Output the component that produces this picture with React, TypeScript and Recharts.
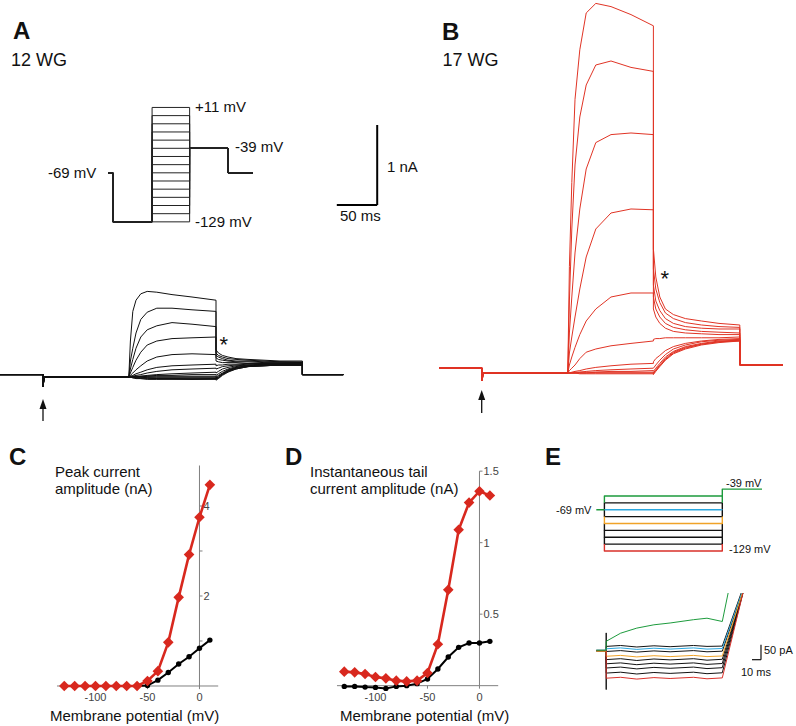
import React from "react";
import { LineChart, Line, XAxis, YAxis, ReferenceLine } from "recharts";

const FONT = "'Liberation Sans', Arial, Helvetica, sans-serif";
const INK = "#111";
const TRACE_RED = "#e03324";
const IV_RED = "#d8281e";
const GRAY = "#808080";

// ---------- Panel A: 12 WG currents (time ms, current nA) ----------
const aTime = [0, 54, 54, 55, 161, 163, 166, 170, 176, 184, 196, 215, 240, 270, 270, 273, 278, 285, 295, 310, 330, 350, 378, 378, 429];
const aPre = [0.03, 0.03, -0.12, 0, 0];
const aPost = [0.03, 0.03];
const aPulse = [
  [0.45, 0.82, 0.96, 1.04, 1.07, 1.06, 1.03, 1.0, 0.96],
  [0.2, 0.36, 0.55, 0.72, 0.81, 0.86, 0.86, 0.84, 0.82],
  [0.1, 0.22, 0.36, 0.5, 0.59, 0.64, 0.68, 0.66, 0.63],
  [0.05, 0.12, 0.21, 0.31, 0.4, 0.45, 0.48, 0.49, 0.5],
  [0.02, 0.05, 0.09, 0.14, 0.2, 0.25, 0.28, 0.29, 0.28],
  [0.01, 0.02, 0.04, 0.06, 0.09, 0.12, 0.14, 0.15, 0.16],
  [0, 0.01, 0.02, 0.03, 0.05, 0.07, 0.09, 0.1, 0.11],
  [0, 0, 0.01, 0.01, 0.02, 0.03, 0.04, 0.05, 0.06],
  [0, 0, 0, 0.01, 0.01, 0.02, 0.02, 0.03, 0.03],
  [0, 0, 0, 0, 0.01, 0.01, 0.01, 0.01, 0.01],
  [0, 0, 0, 0, 0, 0, 0, 0, 0],
  [0, 0, 0, 0, -0.01, -0.01, -0.01, -0.01, -0.01],
  [0, 0, -0.01, -0.01, -0.01, -0.02, -0.02, -0.02, -0.02],
  [0, -0.01, -0.01, -0.02, -0.02, -0.02, -0.02, -0.03, -0.02],
  [0, -0.01, -0.02, -0.02, -0.03, -0.03, -0.03, -0.03, -0.03],
];
const aTail = [
  [0.34, 0.3, 0.27, 0.25, 0.23, 0.22, 0.21, 0.2, 0.2],
  [0.3, 0.27, 0.25, 0.23, 0.22, 0.21, 0.2, 0.19, 0.19],
  [0.27, 0.25, 0.23, 0.21, 0.2, 0.2, 0.19, 0.19, 0.18],
  [0.24, 0.22, 0.21, 0.2, 0.19, 0.19, 0.18, 0.18, 0.18],
  [0.2, 0.19, 0.18, 0.18, 0.18, 0.17, 0.17, 0.17, 0.17],
  [0.14, 0.15, 0.15, 0.16, 0.16, 0.17, 0.17, 0.17, 0.17],
  [0.1, 0.11, 0.13, 0.14, 0.15, 0.16, 0.16, 0.16, 0.16],
  [0.05, 0.07, 0.1, 0.12, 0.14, 0.15, 0.16, 0.16, 0.16],
  [0.02, 0.04, 0.07, 0.1, 0.13, 0.15, 0.15, 0.16, 0.16],
  [0, 0.02, 0.05, 0.09, 0.12, 0.14, 0.15, 0.15, 0.15],
  [-0.01, 0.01, 0.04, 0.08, 0.12, 0.14, 0.15, 0.15, 0.15],
  [-0.02, 0, 0.04, 0.08, 0.11, 0.14, 0.15, 0.15, 0.15],
  [-0.02, -0.01, 0.03, 0.07, 0.11, 0.13, 0.14, 0.15, 0.15],
  [-0.03, -0.01, 0.03, 0.07, 0.1, 0.13, 0.14, 0.15, 0.15],
  [-0.04, -0.02, 0.02, 0.06, 0.1, 0.13, 0.14, 0.15, 0.15],
];

// ---------- Panel B: 17 WG currents ----------
const bTime = [0, 54, 54, 55, 161, 163, 166, 170, 176, 184, 196, 215, 240, 268, 268, 271, 276, 283, 293, 308, 328, 350, 376, 376, 430];
const bPre = [0.06, 0.06, -0.1, 0, 0];
const bPost = [0.1, 0.1];
const bPulse = [
  [1.33, 2.38, 3.42, 4.04, 4.5, 4.62, 4.58, 4.48, 4.34],
  [0.9, 1.8, 2.6, 3.2, 3.6, 3.85, 3.9, 3.82, 3.77],
  [0.5, 0.95, 1.5, 2.05, 2.55, 2.88, 2.98, 3.0, 2.98],
  [0.25, 0.45, 0.7, 1.05, 1.45, 1.8, 2.0, 2.05, 2.04],
  [0.1, 0.2, 0.32, 0.48, 0.65, 0.8, 0.95, 1.0, 1.0],
  [0.03, 0.06, 0.1, 0.18, 0.26, 0.3, 0.34, 0.37, 0.4],
  [0, 0.01, 0.02, 0.03, 0.05, 0.07, 0.09, 0.11, 0.12],
  [0, 0, 0.01, 0.01, 0.02, 0.03, 0.04, 0.05, 0.06],
  [0, 0, 0, 0.01, 0.01, 0.01, 0.02, 0.02, 0.03],
  [0, 0, 0, 0, 0, 0.01, 0.01, 0.01, 0.01],
  [0, 0, 0, 0, 0, 0, 0, 0, 0],
  [0, 0, 0, -0.01, -0.01, -0.01, -0.01, -0.01, -0.01],
];
const bTail = [
  [1.55, 1.2, 0.95, 0.8, 0.73, 0.68, 0.65, 0.62, 0.6],
  [1.3, 1.05, 0.88, 0.75, 0.68, 0.63, 0.6, 0.58, 0.57],
  [1.1, 0.9, 0.78, 0.68, 0.62, 0.58, 0.56, 0.55, 0.55],
  [0.95, 0.8, 0.7, 0.62, 0.57, 0.54, 0.52, 0.51, 0.5],
  [0.8, 0.7, 0.62, 0.56, 0.52, 0.5, 0.49, 0.48, 0.48],
  [0.42, 0.43, 0.43, 0.44, 0.44, 0.44, 0.44, 0.44, 0.45],
  [0.14, 0.18, 0.22, 0.28, 0.33, 0.37, 0.4, 0.42, 0.43],
  [0.06, 0.1, 0.16, 0.23, 0.3, 0.35, 0.39, 0.41, 0.42],
  [0.02, 0.06, 0.12, 0.2, 0.27, 0.33, 0.37, 0.4, 0.41],
  [0, 0.04, 0.1, 0.18, 0.26, 0.32, 0.36, 0.39, 0.41],
  [-0.01, 0.03, 0.09, 0.17, 0.25, 0.31, 0.36, 0.39, 0.4],
  [-0.02, 0.02, 0.08, 0.16, 0.24, 0.3, 0.35, 0.38, 0.4],
];

// ---------- Panel A voltage protocol (schematic time, mV) ----------
const aProtoTime = [0, 6, 6, 54, 54, 100, 100, 147, 147, 178];
const holdMv = -69;
const preMv = -129;
const afterMv = -39;
const aLevels = [11, 1, -9, -19, -29, -39, -49, -59, -69, -79, -89, -99, -109, -119, -129];

// ---------- Panels C / D: I-V relations ----------
const ivVoltage = [-130, -120, -110, -100, -90, -80, -70, -60, -50, -40, -30, -20, -10, 0, 10];
const peak17 = [0, 0, 0, 0, 0, 0, 0, 0, 0.11, 0.33, 0.97, 1.97, 2.92, 3.75, 4.47];
const peak12 = [0, 0, 0, 0, 0, 0, 0, 0, 0.01, 0.13, 0.3, 0.49, 0.65, 0.84, 1.02];
const tail17 = [0.098, 0.093, 0.082, 0.061, 0.051, 0.035, 0.03, 0.035, 0.089, 0.29, 0.67, 1.09, 1.28, 1.36, 1.33];
const tail12 = [-0.005, -0.005, -0.01, -0.012, -0.019, -0.005, 0, 0.014, 0.047, 0.117, 0.2, 0.268, 0.298, 0.298, 0.31];
const xTicks = [-100, -50, 0];
const cYTicks = [1, 2, 3, 4];
const cYLabelled = [2, 4];
const dYTicks = [0.5, 1, 1.5];

// ---------- Panel E: hyperpolarising steps (ms, mV / pA) ----------
const eLevels = [-59, -79, -99, -109, -119, -69, -89, -129, -49];
const eSides = [-69, -69, -89, -99, -109, -69, -79, -119, -59];
const eLevelColors = [INK, INK, INK, INK, INK, "#2aa7df", "#f0a328", "#d9302a", "#1c9b3c"];
const eTime = [0, 11, 11, 11, 11, 27, 45, 64, 82, 108, 123, 140, 163];
const eTraces = [
  [-14, -14, -44, -44, -44, -41, -47, -42, -45, -41, -46, -43, 182],
  [-14, -14, -58, -58, -58, -55, -61, -56, -59, -55, -60, -57, 181],
  [-15, -15, -72, -72, -72, -69, -75, -70, -73, -69, -74, -71, 180],
  [-15, -15, -89, -89, -89, -86, -92, -87, -90, -86, -91, -88, 179],
  [-14, -14, -17, -17, -17, -14, -19, -15, -18, -14, -18, -16, 186],
  [-13, -13, 45, -144, 0, 3, -2, 2, -1, 3, 0, 1, 195],
  [-13, -13, -8, -8, -8, -5, -10, -6, -9, -5, -9, -7, 190],
  [-16, -16, -33, -33, -33, -30, -35, -31, -34, -30, -34, -32, 184],
  [-14, -14, -106, -106, -106, -103, -109, -104, -107, -103, -108, -105, 178],
  [-13, -13, -13, -13, 17, 44, 61, 72, 78, 89, 94, 83, 420],
];
const eTraceColors = [INK, INK, INK, INK, INK, INK, "#2aa7df", "#f0a328", "#d9302a", "#1c9b3c"];

type Pt = { t: number; v: number };
const toPts = (time: number[], vals: number[]): Pt[] => time.map((t, i) => ({ t, v: vals[i] }));

function TraceChart(props: {
  left: number; top: number; width: number; height: number;
  xDomain: [number, number]; yDomain: [number, number];
  lines: { pts: Pt[]; color: string; w: number }[];
  clip?: boolean; children?: React.ReactNode;
}) {
  const { left, top, width, height, xDomain, yDomain, lines, clip, children } = props;
  return (
    <div style={{ position: "absolute", left, top, width, height }}>
      <LineChart width={width} height={height} margin={{ top: 0, right: 0, bottom: 0, left: 0 }}>
        <XAxis dataKey="t" type="number" domain={xDomain} hide allowDataOverflow />
        <YAxis type="number" domain={yDomain} hide allowDataOverflow={!!clip} />
        {lines.map((l, i) => (
          <Line key={i} data={l.pts} dataKey="v" type="linear" stroke={l.color} strokeWidth={l.w}
            dot={false} isAnimationActive={false} strokeLinejoin="round" />
        ))}
        {children}
      </LineChart>
    </div>
  );
}

const diamondDot = (p: any) => {
  const { cx, cy, index } = p;
  if (cx == null || cy == null) return <g key={`dm-${index}`} />;
  const r = 5.3;
  return <path key={`dm-${index}`} d={`M${cx},${cy - r}L${cx + r},${cy}L${cx},${cy + r}L${cx - r},${cy}Z`} fill={IV_RED} />;
};

function IVChart(props: {
  plotLeft: number; plotTop: number; plotW: number; plotH: number;
  yDomain: [number, number]; red: number[]; black: number[];
  yTicks: number[]; yLabelled: number[]; yMax: number; tickLen: number;
}) {
  const { plotLeft, plotTop, plotW, plotH, yDomain, red, black, yTicks, yLabelled, yMax, tickLen } = props;
  const m = 8;
  const rows = ivVoltage.map((v, i) => ({ v, red: red[i], black: black[i] }));
  const width = plotW + 2 * m;
  const height = plotH + m + 16 + 2;
  return (
    <div style={{ position: "absolute", left: plotLeft - m, top: plotTop - m }}>
      <LineChart width={width} height={height} data={rows} margin={{ top: m, right: m, bottom: 2, left: m }}>
        <XAxis dataKey="v" type="number" domain={[-137, 18]} ticks={xTicks} interval={0} axisLine={false}
          tickLine={false} tickSize={0} height={16} tick={{ fontSize: 11, fill: "#444" }} />
        <YAxis type="number" domain={yDomain} hide />
        <ReferenceLine segment={[{ x: -137, y: 0 }, { x: 18, y: 0 }]} stroke={GRAY} strokeWidth={1} />
        <ReferenceLine segment={[{ x: 0, y: 0 }, { x: 0, y: yMax }]} stroke={GRAY} strokeWidth={1} />
        {xTicks.map((t) => (
          <ReferenceLine key={`xt${t}`} segment={[{ x: t, y: 0 }, { x: t, y: -tickLen }]} stroke={GRAY} />
        ))}
        {yTicks.map((t) => (
          <ReferenceLine key={`yt${t}`} segment={[{ x: 0, y: t }, { x: 2.9, y: t }]} stroke={GRAY}
            label={yLabelled.includes(t) ? { value: String(t), position: "right", offset: 1, fontSize: 11, fill: "#444" } : undefined} />
        ))}
        <Line dataKey="black" type="linear" stroke="#000" strokeWidth={2}
          dot={{ r: 2.7, fill: "#000", stroke: "#000", strokeWidth: 0 }} isAnimationActive={false} />
        <Line dataKey="red" type="linear" stroke={IV_RED} strokeWidth={2.6} dot={diamondDot} isAnimationActive={false} />
      </LineChart>
    </div>
  );
}

function Txt(p: { x: number; y: number; s: number; b?: boolean; c?: string; children: React.ReactNode }) {
  return (
    <text x={p.x} y={p.y} fontSize={p.s} fontWeight={p.b ? 700 : 400} fill={p.c ?? INK}>{p.children}</text>
  );
}

export default function App() {
  const aLines = aPulse.map((p, i) => ({ pts: toPts(aTime, [...aPre, ...p, ...aTail[i], ...aPost]), color: INK, w: 1 }));
  const bLines = bPulse.map((p, i) => ({ pts: toPts(bTime, [...bPre, ...p, ...bTail[i], ...bPost]), color: TRACE_RED, w: 1 }));
  const protoLines = aLevels.map((v) => ({
    pts: toPts(aProtoTime, [holdMv, holdMv, preMv, preMv, v, v, afterMv, afterMv, holdMv, holdMv]),
    color: "#222", w: 1,
  }));
  const eProto = eLevels.map((v, i) => ({
    pts: toPts([9, 9, 140, 140], [eSides[i], v, v, eSides[i]]), color: eLevelColors[i], w: 1.4,
  }));
  const eProtoExtra = [
    { pts: toPts([0, 9], [holdMv, holdMv]), color: "#1c9b3c", w: 1.4 },
    { pts: toPts([140, 140, 185], [-49, afterMv, afterMv]), color: "#1c9b3c", w: 1.4 },
  ];
  const eLines = eTraces.map((tr, i) => ({ pts: toPts(eTime, tr), color: eTraceColors[i], w: 1 }));

  return (
    <div style={{ position: "absolute", left: 0, top: 0, width: 796, height: 726, background: "#fff", fontFamily: FONT, overflow: "hidden" }}>
      {/* A traces, 0.8 px/ms, 80 px/nA */}
      <TraceChart left={0} top={101} width={390} height={320} xDomain={[0, 487.5]} yDomain={[-0.55, 3.45]} lines={aLines}>
        <ReferenceLine segment={[{ x: 421, y: 2.15 }, { x: 471.5, y: 2.15 }]} stroke="#000" strokeWidth={2} />
        <ReferenceLine segment={[{ x: 471.5, y: 2.15 }, { x: 471.5, y: 3.15 }]} stroke="#000" strokeWidth={2} />
      </TraceChart>
      {/* A protocol */}
      <TraceChart left={108} top={104.9} width={145.3} height={119.3} xDomain={[0, 178]} yDomain={[-132, 14]} lines={protoLines} />
      {/* B traces */}
      <TraceChart left={430} top={1.3} width={360} height={418.4} xDomain={[-11.25, 438.75]} yDomain={[-0.58, 4.65]} lines={bLines} />
      {/* C and D */}
      <IVChart plotLeft={56.5} plotTop={461} plotW={161.2} plotH={230.4} yDomain={[-0.12, 5]}
        red={peak17} black={peak12} yTicks={cYTicks} yLabelled={cYLabelled} yMax={4.9} tickLen={0.07} />
      <IVChart plotLeft={336.5} plotTop={464.35} plotW={161.2} plotH={227.4} yDomain={[-0.04, 1.55]}
        red={tail17} black={tail12} yTicks={dYTicks} yLabelled={dYTicks} yMax={1.5} tickLen={0.021} />
      {/* E protocol and traces */}
      <TraceChart left={589.7} top={485.3} width={172.8} height={70.1} xDomain={[-7, 185]} yDomain={[-135, -33]}
        lines={[...eProto, ...eProtoExtra]} />
      <TraceChart left={589.7} top={593.3} width={172.8} height={107.4} xDomain={[-7, 185]} yDomain={[-180, 178]}
        lines={eLines} clip>
        <ReferenceLine segment={[{ x: 183, y: -44.3 }, { x: 183, y: 5.7 }]} stroke={INK} strokeWidth={1.2} />
        <ReferenceLine segment={[{ x: 173, y: -44.3 }, { x: 183, y: -44.3 }]} stroke={INK} strokeWidth={1.2} />
      </TraceChart>

      <svg width={796} height={726} style={{ position: "absolute", left: 0, top: 0, pointerEvents: "none" }}>
        <Txt x={13} y={38.5} s={24} b>A</Txt>
        <Txt x={11} y={66} s={18}>12 WG</Txt>
        <Txt x={442} y={39.5} s={24} b>B</Txt>
        <Txt x={442.5} y={66} s={18}>17 WG</Txt>
        <Txt x={48} y={178} s={15}>-69 mV</Txt>
        <Txt x={195} y={112} s={15}>+11 mV</Txt>
        <Txt x={235} y={152} s={15}>-39 mV</Txt>
        <Txt x={195} y={227} s={15}>-129 mV</Txt>
        <Txt x={387} y={172} s={15}>1 nA</Txt>
        <Txt x={340} y={221} s={15}>50 ms</Txt>
        <Txt x={219.5} y={351.5} s={22}>*</Txt>
        <Txt x={660.5} y={286} s={22}>*</Txt>
        <path d="M43,399 L39.5,409 L46.5,409 Z" fill={INK} />
        <line x1={43} y1={405} x2={43} y2={421} stroke={INK} strokeWidth={1.3} />
        <path d="M481.7,390 L478.2,400 L485.2,400 Z" fill={INK} />
        <line x1={481.7} y1={396} x2={481.7} y2={413} stroke={INK} strokeWidth={1.3} />

        <Txt x={9} y={465} s={24} b>C</Txt>
        <Txt x={285} y={465} s={24} b>D</Txt>
        <Txt x={545} y={465} s={24} b>E</Txt>
        <Txt x={55} y={476.5} s={15}>Peak current</Txt>
        <Txt x={55} y={494} s={15}>amplitude (nA)</Txt>
        <Txt x={310} y={476.5} s={15}>Instantaneous tail</Txt>
        <Txt x={310} y={494} s={15}>current amplitude (nA)</Txt>
        <Txt x={50} y={721} s={15}>Membrane potential (mV)</Txt>
        <Txt x={340} y={721} s={15}>Membrane potential (mV)</Txt>

        <Txt x={556} y={514} s={11}>-69 mV</Txt>
        <Txt x={726} y={487} s={11}>-39 mV</Txt>
        <Txt x={729} y={553} s={11}>-129 mV</Txt>
        <Txt x={764} y={654} s={11}>50 pA</Txt>
        <Txt x={741} y={676} s={11}>10 ms</Txt>
      </svg>
    </div>
  );
}
